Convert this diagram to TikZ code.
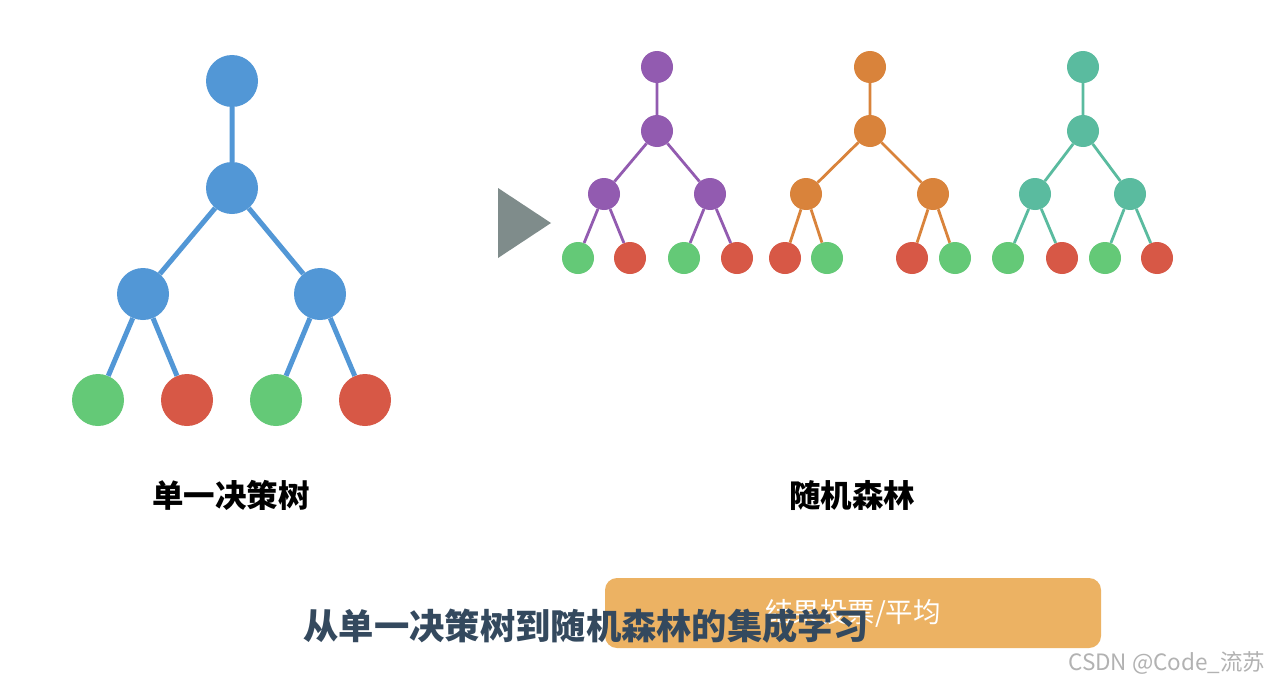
\documentclass[tikz,border=0pt]{standalone}
\usepackage{fontspec}
\newfontfamily\cjk{Noto Sans CJK SC}
\definecolor{treeblue}{HTML}{5297D6}
\definecolor{leafgreen}{HTML}{64C977}
\definecolor{leafred}{HTML}{D75846}
\definecolor{treepurple}{HTML}{925BB0}
\definecolor{treeorange}{HTML}{D9833B}
\definecolor{treeteal}{HTML}{5ABB9F}
\definecolor{arrowgray}{HTML}{7F8C8B}
\definecolor{voteorange}{HTML}{ECB263}
\definecolor{titleblue}{HTML}{34495E}

\begin{document}
\begin{tikzpicture}[x=1pt,y=-1pt,
  big/.style={circle,inner sep=0pt,minimum size=52pt,fill=#1},
  small/.style={circle,inner sep=0pt,minimum size=32pt,fill=#1}]
\useasboundingbox[fill=white] (0,0) rectangle (1273,685);
% ---------- 单一决策树 ----------
\node[big=treeblue] (s1) at (232,81) {};
\node[big=treeblue] (s2) at (232,188) {};
\node[big=treeblue] (s3) at (143,294) {};
\node[big=treeblue] (s4) at (320,294) {};
\node[big=leafgreen] (s5) at (98,400) {};
\node[big=leafred] (s6) at (187,400) {};
\node[big=leafgreen] (s7) at (276,400) {};
\node[big=leafred] (s8) at (365,400) {};
\draw[treeblue,line width=5pt] (s1) -- (s2) (s2) -- (s3) (s2) -- (s4)
  (s3) -- (s5) (s3) -- (s6) (s4) -- (s7) (s4) -- (s8);
\node[font=\cjk\bfseries\fontsize{31.5}{31.5}\selectfont] (single) at (231,495) {单一决策树};
% ---------- 箭头 ----------
\fill[arrowgray] (498,188) -- (551,223) -- (498,258) -- cycle;
% ---------- 随机森林：三棵小树 ----------
\node[small=treepurple] (p1) at (657,67) {};
\node[small=treepurple] (p2) at (657,131) {};
\node[small=treepurple] (p3) at (604,194) {};
\node[small=treepurple] (p4) at (710,194) {};
\node[small=leafgreen] (p5) at (578,258) {};
\node[small=leafred] (p6) at (630,258) {};
\node[small=leafgreen] (p7) at (684,258) {};
\node[small=leafred] (p8) at (737,258) {};
\draw[treepurple,line width=2.8pt] (p1) -- (p2) (p2) -- (p3) (p2) -- (p4)
  (p3) -- (p5) (p3) -- (p6) (p4) -- (p7) (p4) -- (p8);
\node[small=treeorange] (o1) at (870,67) {};
\node[small=treeorange] (o2) at (870,131) {};
\node[small=treeorange] (o3) at (806,194) {};
\node[small=treeorange] (o4) at (933,194) {};
\node[small=leafred] (o5) at (785,258) {};
\node[small=leafgreen] (o6) at (827,258) {};
\node[small=leafred] (o7) at (912,258) {};
\node[small=leafgreen] (o8) at (955,258) {};
\draw[treeorange,line width=2.8pt] (o1) -- (o2) (o2) -- (o3) (o2) -- (o4)
  (o3) -- (o5) (o3) -- (o6) (o4) -- (o7) (o4) -- (o8);
\node[small=treeteal] (t1) at (1083,67) {};
\node[small=treeteal] (t2) at (1083,131) {};
\node[small=treeteal] (t3) at (1035,194) {};
\node[small=treeteal] (t4) at (1130,194) {};
\node[small=leafgreen] (t5) at (1008,258) {};
\node[small=leafred] (t6) at (1062,258) {};
\node[small=leafgreen] (t7) at (1105,258) {};
\node[small=leafred] (t8) at (1157,258) {};
\draw[treeteal,line width=2.8pt] (t1) -- (t2) (t2) -- (t3) (t2) -- (t4)
  (t3) -- (t5) (t3) -- (t6) (t4) -- (t7) (t4) -- (t8);
\node[font=\cjk\bfseries\fontsize{31.5}{31.5}\selectfont] (forest) at (852,495) {随机森林};
% ---------- 底部 ----------
\node[fill=voteorange,rounded corners=12pt,minimum width=496pt,minimum height=70pt,
  inner sep=0pt,text=white,font=\cjk\fontsize{27.5}{27.5}\selectfont] (vote) at (853,613) {结果投票/平均};
\node[text=titleblue,font=\cjk\bfseries\fontsize{35.3}{35.3}\selectfont] (title) at (586,626)
  {从单一决策树到随机森林的集成学习};
\node[anchor=east,text=black!30,font=\cjk\fontsize{22.5}{22.5}\selectfont] (mark) at (1269,663)
  {CSDN @Code\_流苏};
\end{tikzpicture}
\end{document}
